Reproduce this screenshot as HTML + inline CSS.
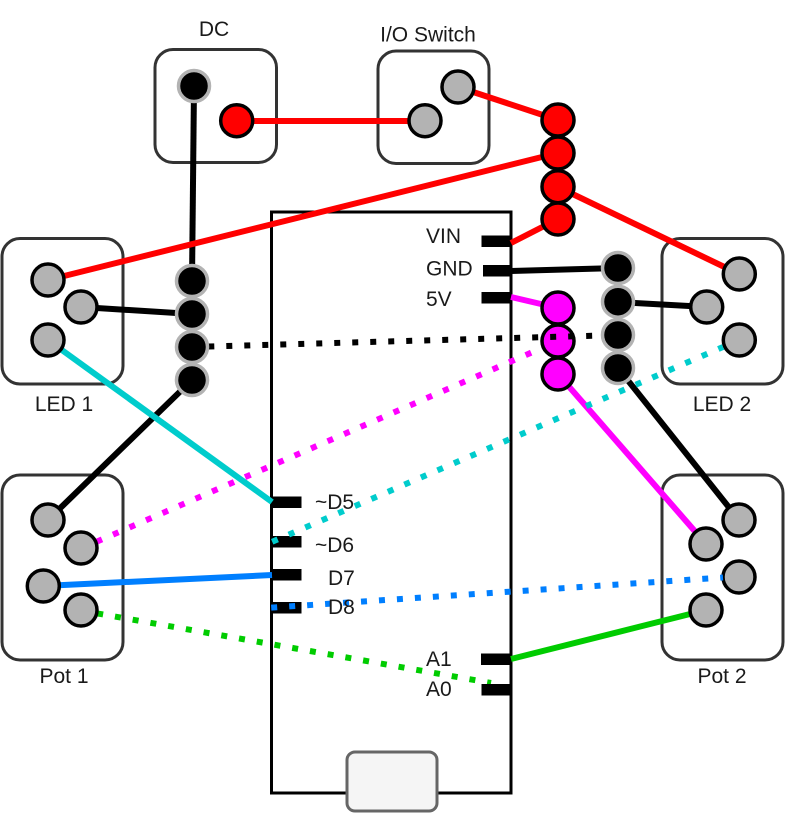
<!DOCTYPE html>
<html>
<head>
<meta charset="utf-8">
<style>
html,body{margin:0;padding:0;background:#fff;}
svg{display:block;}
text{font-family:"Liberation Sans",sans-serif;font-size:21px;fill:#1a1a1a;}
.box{fill:#fff;stroke:#333;stroke-width:3;}
.l{fill:none;stroke-width:6;}
.d{fill:none;stroke-width:6;stroke-dasharray:6 12;}
.g{fill:#b3b3b3;stroke:#000;stroke-width:3.5;}
.r{fill:#f00;stroke:#000;stroke-width:3.5;}
.m{fill:#f0f;stroke:#000;stroke-width:3.5;}
.k{fill:#000;stroke:#b3b3b3;stroke-width:3.5;}
</style>
</head>
<body>
<svg width="786" height="813" viewBox="0 0 786 813" xmlns="http://www.w3.org/2000/svg">
<rect x="0" y="0" width="786" height="813" fill="#fff"/>
<rect class="box" x="155" y="49.500" width="121.500" height="113" rx="18"/>
<rect class="box" x="378" y="51" width="111" height="112.500" rx="18"/>
<rect class="box" x="2" y="238.500" width="121" height="145.500" rx="18"/>
<rect class="box" x="662" y="238.500" width="121" height="145.500" rx="18"/>
<rect class="box" x="2" y="475" width="121" height="185" rx="18"/>
<rect class="box" x="662" y="475" width="121" height="185" rx="18"/>
<rect x="271.500" y="212" width="239.500" height="581" fill="none" stroke="#000" stroke-width="3"/>
<rect x="347" y="752" width="90" height="59" rx="8" fill="#f5f5f5" stroke="#666" stroke-width="3"/>
<g fill="#000">
<rect x="481.500" y="235.500" width="29.500" height="11.500"/>
<rect x="483" y="265" width="28" height="11.500"/>
<rect x="481.500" y="292" width="29.500" height="11.500"/>
<rect x="272" y="496.500" width="29.500" height="11.500"/>
<rect x="272" y="536" width="29.500" height="11.500"/>
<rect x="272" y="569" width="29.500" height="11.500"/>
<rect x="272" y="602" width="29.500" height="11.500"/>
<rect x="481" y="653.500" width="30" height="11.500"/>
<rect x="481.500" y="684" width="29.500" height="11.500"/>
</g>
<line class="l" stroke="#000" x1="194" y1="86" x2="192" y2="281"/>
<line class="l" stroke="#000" x1="81" y1="307" x2="192" y2="314"/>
<line class="l" stroke="#000" x1="511" y1="271" x2="618" y2="268"/>
<line class="l" stroke="#000" x1="618" y1="302" x2="707" y2="307"/>
<line class="l" stroke="#000" x1="48" y1="520" x2="192" y2="380"/>
<line class="l" stroke="#000" x1="618" y1="368" x2="739" y2="520"/>
<line class="l" stroke="#f00" x1="237" y1="121" x2="425" y2="121"/>
<line class="l" stroke="#f00" x1="458" y1="87" x2="558" y2="120"/>
<line class="l" stroke="#f00" x1="48" y1="280" x2="558" y2="153"/>
<line class="l" stroke="#f00" x1="558" y1="187" x2="739" y2="274"/>
<line class="l" stroke="#f00" x1="511" y1="243" x2="558" y2="219"/>
<line class="l" stroke="#f0f" x1="511" y1="297" x2="558" y2="308"/>
<line class="l" stroke="#f0f" x1="558" y1="374" x2="706" y2="544"/>
<line class="l" stroke="#0cc" x1="48" y1="340" x2="272" y2="502"/>
<line class="l" stroke="#007fff" x1="43" y1="586" x2="272" y2="575"/>
<line class="l" stroke="#0c0" x1="511" y1="659" x2="706" y2="610"/>
<line class="d" stroke="#f0f" x1="96.500" y1="541.800" x2="558" y2="341"/>
<line class="d" stroke="#0c0" x1="97.200" y1="613.400" x2="491" y2="683"/>
<rect x="481.500" y="684" width="29.500" height="11.500" fill="#000"/>
<g class="g">
<circle cx="458" cy="87" r="16"/><circle cx="425" cy="120.700" r="16"/>
<circle cx="739.300" cy="274" r="16"/><circle cx="706.700" cy="307" r="16"/><circle cx="739.300" cy="340" r="16"/>
<circle cx="48" cy="280" r="16"/><circle cx="81" cy="307" r="16"/><circle cx="48" cy="340" r="16"/>
<circle cx="48" cy="520" r="16"/><circle cx="81" cy="548" r="16"/><circle cx="43.300" cy="586" r="16"/><circle cx="81" cy="610" r="16"/>
<circle cx="739" cy="520" r="16"/><circle cx="706" cy="544" r="16"/><circle cx="739" cy="577" r="16"/><circle cx="706" cy="610" r="16"/>
</g>
<g class="r">
<circle cx="236.700" cy="120.700" r="16"/>
<circle cx="558" cy="120" r="16"/><circle cx="558" cy="153" r="16"/><circle cx="558" cy="186.700" r="16"/><circle cx="558" cy="219" r="16"/>
</g>
<g class="m">
<circle cx="558" cy="308" r="16"/><circle cx="558" cy="341" r="16"/><circle cx="558" cy="374" r="16"/>
</g>
<line class="d" stroke="#000" x1="208.300" y1="346.500" x2="602" y2="335.500"/>
<line class="d" stroke="#0cc" x1="272.200" y1="541.800" x2="723" y2="347"/>
<line class="d" stroke="#007fff" x1="271.200" y1="607.600" x2="723" y2="577.500"/>
<g class="k">
<circle cx="194" cy="86" r="15.500"/>
<circle cx="192" cy="281" r="15.500"/><circle cx="192" cy="314" r="15.500"/><circle cx="192" cy="347" r="15.500"/><circle cx="192" cy="380" r="15.500"/>
<circle cx="618" cy="268" r="15.500"/><circle cx="618" cy="301.700" r="15.500"/><circle cx="618" cy="335" r="15.500"/><circle cx="618" cy="368" r="15.500"/>
</g>
<text x="214" y="36" text-anchor="middle">DC</text>
<text x="428" y="41.500" text-anchor="middle">I/O Switch</text>
<text x="64" y="411" text-anchor="middle">LED 1</text>
<text x="722" y="411" text-anchor="middle">LED 2</text>
<text x="64" y="683" text-anchor="middle">Pot 1</text>
<text x="722" y="683" text-anchor="middle">Pot 2</text>
<text x="426" y="243">VIN</text>
<text x="426" y="275.500">GND</text>
<text x="426" y="306">5V</text>
<text x="315" y="509">~D5</text>
<text x="315" y="552">~D6</text>
<text x="328" y="585">D7</text>
<text x="328" y="614">D8</text>
<text x="426" y="666">A1</text>
<text x="426" y="696">A0</text>
</svg>
</body>
</html>
